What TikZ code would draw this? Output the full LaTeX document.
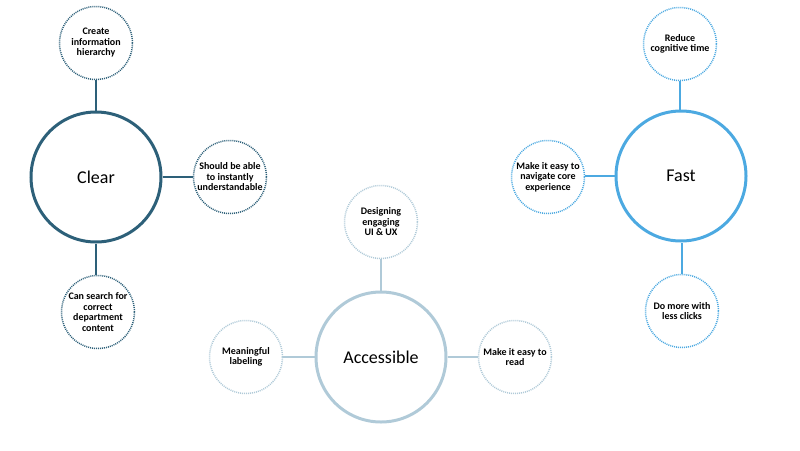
\documentclass[tikz,border=0pt]{standalone}
\usepackage{fontspec}
\setmainfont{Carlito}
\begin{document}
\begin{tikzpicture}[x=1pt,y=-1pt,
  hub/.style={circle,draw=#1,line width=3pt,minimum size=130pt,inner sep=0pt,font=\fontsize{18}{20}\selectfont},
  leaf/.style={circle,draw=#1,line width=1.5pt,dash pattern=on 1pt off 1pt,minimum size=73pt,inner sep=0pt,align=center,font=\bfseries\fontsize{10}{10.5}\selectfont},
  link/.style={draw=#1,line width=2pt}]
\definecolor{clearc}{HTML}{2D6079}
\definecolor{fastc}{HTML}{4CA9E1}
\definecolor{accc}{HTML}{B0CAD8}
\useasboundingbox (0,0) rectangle (800,450);
% Clear
\node[hub=clearc] (clear) at (96,177) {Clear};
\node[leaf=clearc] (c1) at (96,43) {Create\\information\\hierarchy};
\node[leaf=clearc] (c2) at (230,177) {Should be able\\to instantly\\understandable};
\node[leaf=clearc] (c3) at (98,312) {Can search for\\correct\\department\\content};
\draw[link=clearc] (clear) -- (c1);
\draw[link=clearc] (clear) -- (c2);
\draw[link=clearc] (clear.south) -- (c3.north -| clear.south);
% Fast
\node[hub=fastc] (fast) at (681,176) {Fast};
\node[leaf=fastc] (f1) at (680,44) {Reduce\\cognitive time};
\node[leaf=fastc] (f2) at (548,177) {Make it easy to\\navigate core\\experience};
\node[leaf=fastc] (f3) at (682,311) {Do more with\\less clicks};
\draw[link=fastc] (fast.north -| f1) -- (f1);
\draw[link=fastc] (fast.west) -- (f2.east |- fast.west);
\draw[link=fastc] (fast.south -| f3) -- (f3);
% Accessible
\node[hub=accc] (acc) at (381,357) {Accessible};
\node[leaf=accc] (a1) at (381,222) {Designing\\engaging\\UI \& UX};
\node[leaf=accc] (a2) at (246,357) {Meaningful\\labeling};
\node[leaf=accc] (a3) at (515,357) {Make it easy to\\read};
\draw[link=accc] (acc) -- (a1);
\draw[link=accc] (acc) -- (a2);
\draw[link=accc] (acc) -- (a3);
\end{tikzpicture}
\end{document}
